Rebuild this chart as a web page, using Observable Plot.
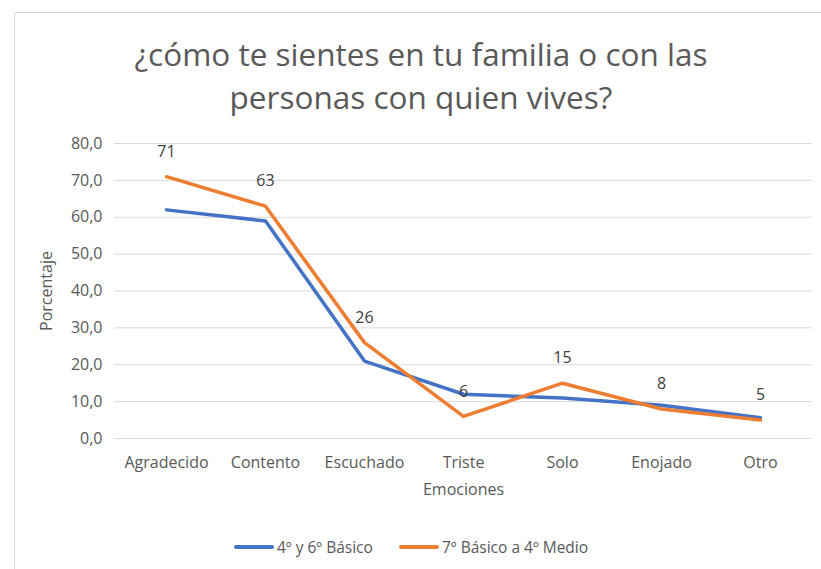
<!DOCTYPE html>
<html>
<head>
<meta charset="utf-8">
<script src="https://cdn.jsdelivr.net/npm/d3@7"></script>
<script src="https://cdn.jsdelivr.net/npm/@observablehq/plot@0.6"></script>
<style>
  body { margin: 0; background: #fff; font-family: "Open Sans", sans-serif; }
  #frame { position: absolute; left: 14px; top: 12px; width: 830px; height: 600px; border: 1px solid #d9d9d9; box-sizing: border-box; }
  #title { position: absolute; left: 0; width: 842px; top: 32px; text-align: center; font-size: 31.5px; line-height: 43px; color: #595959; }
  #chart { position: absolute; left: 0; top: 125px; }
  #legend { position: absolute; top: 537px; left: 0; width: 821px; font-size: 15.5px; color: #595959; }
  .item { position: absolute; top: 0; display: flex; align-items: center; height: 20px; white-space: nowrap; }
  .sw { display: inline-block; width: 40px; height: 4px; border-radius: 2px; margin-right: 3px; }
</style>
</head>
<body>
<div id="frame"></div>
<div id="title">¿cómo te sientes en tu familia o con las<br>personas con quien vives?</div>
<div id="chart"></div>
<div id="legend"></div>
<script>
const categories = ["Agradecido", "Contento", "Escuchado", "Triste", "Solo", "Enojado", "Otro"];
const seriesNames = ["4º y 6º Básico", "7º Básico a 4º Medio"];
const basico = [62, 59, 21, 12, 11, 9, 5.6];
const medio = [71, 63, 26, 6, 15, 8, 5];
const yTicks = [0, 10, 20, 30, 40, 50, 60, 70, 80];
const colors = ["#4472C4", "#ED7D31"];

const data = [];
categories.forEach((c, i) => {
  data.push({cat: c, val: basico[i], s: seriesNames[0]});
  data.push({cat: c, val: medio[i], s: seriesNames[1]});
});
const medioData = data.filter(d => d.s === seriesNames[1]);

const plot = Plot.plot({
  width: 821,
  height: 400,
  marginLeft: 114,
  marginRight: 9,
  marginTop: 18,
  marginBottom: 87,
  style: {fontFamily: "Open Sans, sans-serif", fontSize: "16px", color: "#595959", background: "transparent"},
  x: {type: "point", domain: categories, padding: 0.5, label: null},
  y: {domain: [0, 80], label: null},
  color: {domain: seriesNames, range: colors},
  marks: [
    Plot.ruleY(yTicks, {stroke: "#d9d9d9", strokeWidth: 1}),
    Plot.axisY({ticks: yTicks, tickSize: 0, tickPadding: 12, tickFormat: d => d.toFixed(1).replace(".", ","), fill: "#595959", fontSize: 16, label: null}),
    Plot.axisX({tickSize: 0, tickPadding: 18, fill: "#595959", fontSize: 16, label: null}),
    Plot.line(data, {x: "cat", y: "val", z: "s", stroke: "s", strokeWidth: 3.5, strokeLinejoin: "round", strokeLinecap: "round"}),
    Plot.text(medioData, {x: "cat", y: "val", text: d => String(d.val), dy: -25, fill: "#404040", fontSize: 16}),
    Plot.text(["Emociones"], {frameAnchor: "bottom", dy: 56, fill: "#595959", fontSize: 16}),
    Plot.text(["Porcentaje"], {frameAnchor: "left", textAnchor: "middle", dx: -68, rotate: -90, fill: "#595959", fontSize: 16})
  ]
});
document.getElementById("chart").appendChild(plot);

const legend = document.getElementById("legend");
const lefts = [234, 399];
seriesNames.forEach((n, i) => {
  const it = document.createElement("div");
  it.className = "item";
  it.style.left = lefts[i] + "px";
  it.innerHTML = `<span class="sw" style="background:${colors[i]}"></span><span>${n}</span>`;
  legend.appendChild(it);
});
</script>
</body>
</html>
